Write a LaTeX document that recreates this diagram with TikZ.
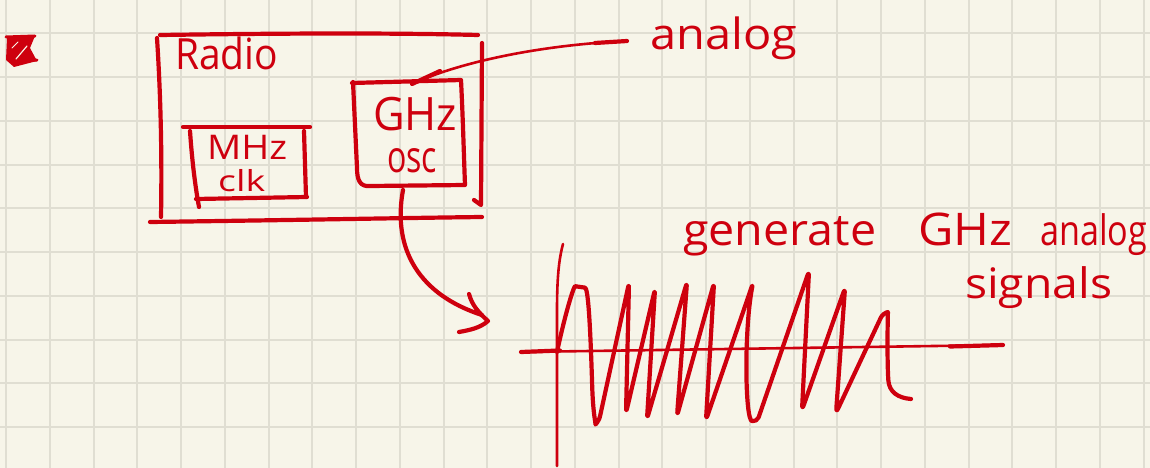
\documentclass[tikz,border=0pt]{standalone}
\usepackage{fontspec}
\setmainfont{Open Sans}
\definecolor{inkc}{RGB}{206,0,14}
\definecolor{paper}{RGB}{247,245,233}
\definecolor{gridc}{RGB}{224,222,210}
\newcommand\hw[3]{\resizebox{#1}{\height}{\fontsize{#2}{#2}\selectfont #3}}
\begin{document}
\begin{tikzpicture}[x=1pt,y=-1pt,line cap=round,line join=round,
  pen/.style={draw=inkc,line width=4.2pt},
  finepen/.style={draw=inkc,line width=2.6pt},
  lbl/.style={text=inkc,inner sep=0pt,anchor=base west}]
\fill[paper] (0,0) rectangle (1150,468);
\useasboundingbox (0,0) rectangle (1150,468);
% grid paper
\foreach \i in {0,...,26} \draw[gridc,line width=2pt] ({6+43.75*\i},0) -- ({6+43.75*\i},468);
\foreach \j in {0,...,10} \draw[gridc,line width=2pt] (0,{33.3+43.75*\j}) -- (1150,{33.3+43.75*\j});
% scribbled bullet
\fill[inkc] (7,38) -- (35,36) -- (30,48) -- (37,61) -- (14,67) -- (6,60) -- cycle;
\draw[inkc,line width=3pt] (6,37) -- (35,36);
\draw[inkc,line width=3pt] (12,62) -- (37,60);
\draw[paper,line width=1.2pt] (16,59) -- (27,46);
\draw[paper,line width=1pt] (12,48) -- (18,42);
% Radio box
\draw[pen] (160,35) .. controls (300,33) and (400,33) .. (478,35);
\draw[pen] (157,38) .. controls (161,100) and (162,160) .. (161,217);
\draw[pen] (150,222) .. controls (300,220) and (400,218) .. (482,217);
\draw[pen] (482,43) -- (481,205) -- (474,200);
\node[lbl] (radio) at (175,70) {\hw{103pt}{43pt}{Radio}};
% MHz clk box
\draw[pen] (183,127) -- (310,127);
\draw[pen] (190,131) .. controls (192,160) and (195,185) .. (199,207);
\draw[pen] (196,199) -- (307,197);
\draw[pen] (304,131) -- (306,197);
\node[lbl] (mhz) at (207,159) {\hw{80pt}{34pt}{MHz}};
\node[lbl] (clk) at (218,191) {\hw{47pt}{29pt}{clk}};
% GHz osc box
\draw[pen] (352,83) -- (461,80) .. controls (463,120) and (464,160) .. (465,185)
  -- (370,186) .. controls (360,187) and (357,180) .. (357,168) -- (353,82);
\node[lbl] (ghz) at (373,131) {\hw{84pt}{46pt}{GHz}};
\node[lbl] (osc) at (387,172) {\hw{50pt}{44pt}{osc}};
% analog label and leader
\coordinate (gtop) at (412,84);
\coordinate (aend) at (627,41);
\node[lbl] (analog) at (650,50) {\hw{147pt}{43pt}{analog}};
\draw[finepen] (gtop) .. controls (460,62) and (540,45) .. (aend);
\draw[pen] (412,84) -- (440,71);
\draw[pen] (595,43) -- (627,41);
% arrow to waveform
\coordinate (gbot) at (403,190);
\coordinate (tip) at (488,321);
\draw[pen] (gbot) .. controls (392,250) and (420,295) .. (482,315);
\draw[pen] (469,294) .. controls (472,305) and (478,312) .. (tip) .. controls (480,328) and (470,330) .. (459,332);
% axes
\coordinate (yt) at (563,244);
\coordinate (yb) at (557,466);
\coordinate (xl) at (521,352);
\coordinate (xr) at (1003,345);
\draw[finepen] (yt) .. controls (556,270) and (557,300) .. (557,350) -- (yb);
\draw[finepen] (xl) -- (xr);
\draw[pen] (521,352) -- (560,350.5);
\draw[pen] (950,346.5) -- (1003,345);
% chirp waveform
\draw[pen,rounded corners=5pt] (557,352) .. controls (566,310) and (574,286) .. (580,287)
  .. controls (588,288) and (590,320) .. (592,380) .. controls (593,415) and (596,424) .. (599,421)
  -- (629,283) -- (626,413) -- (655,289) -- (647,419) -- (687,282) -- (677,416)
  -- (714,283) -- (706,420) -- (753,283) .. controls (744,330) and (745,420) .. (757,422)
  -- (809,271) -- (802,410) -- (845,288) -- (836,413) -- (883,313)
  .. controls (888,312) and (887,340) .. (888,375) .. controls (889,392) and (898,398) .. (911,399);
% caption
\node[lbl] (gen) at (683,245) {\hw{193pt}{44pt}{generate}};
\node[lbl] (ghz2) at (918,245) {\hw{94pt}{45pt}{GHz}};
\node[lbl] (analog2) at (1040,245) {\hw{107pt}{42pt}{analog}};
\node[lbl] (sig) at (965,298) {\hw{147pt}{42pt}{signals}};
\end{tikzpicture}
\end{document}
